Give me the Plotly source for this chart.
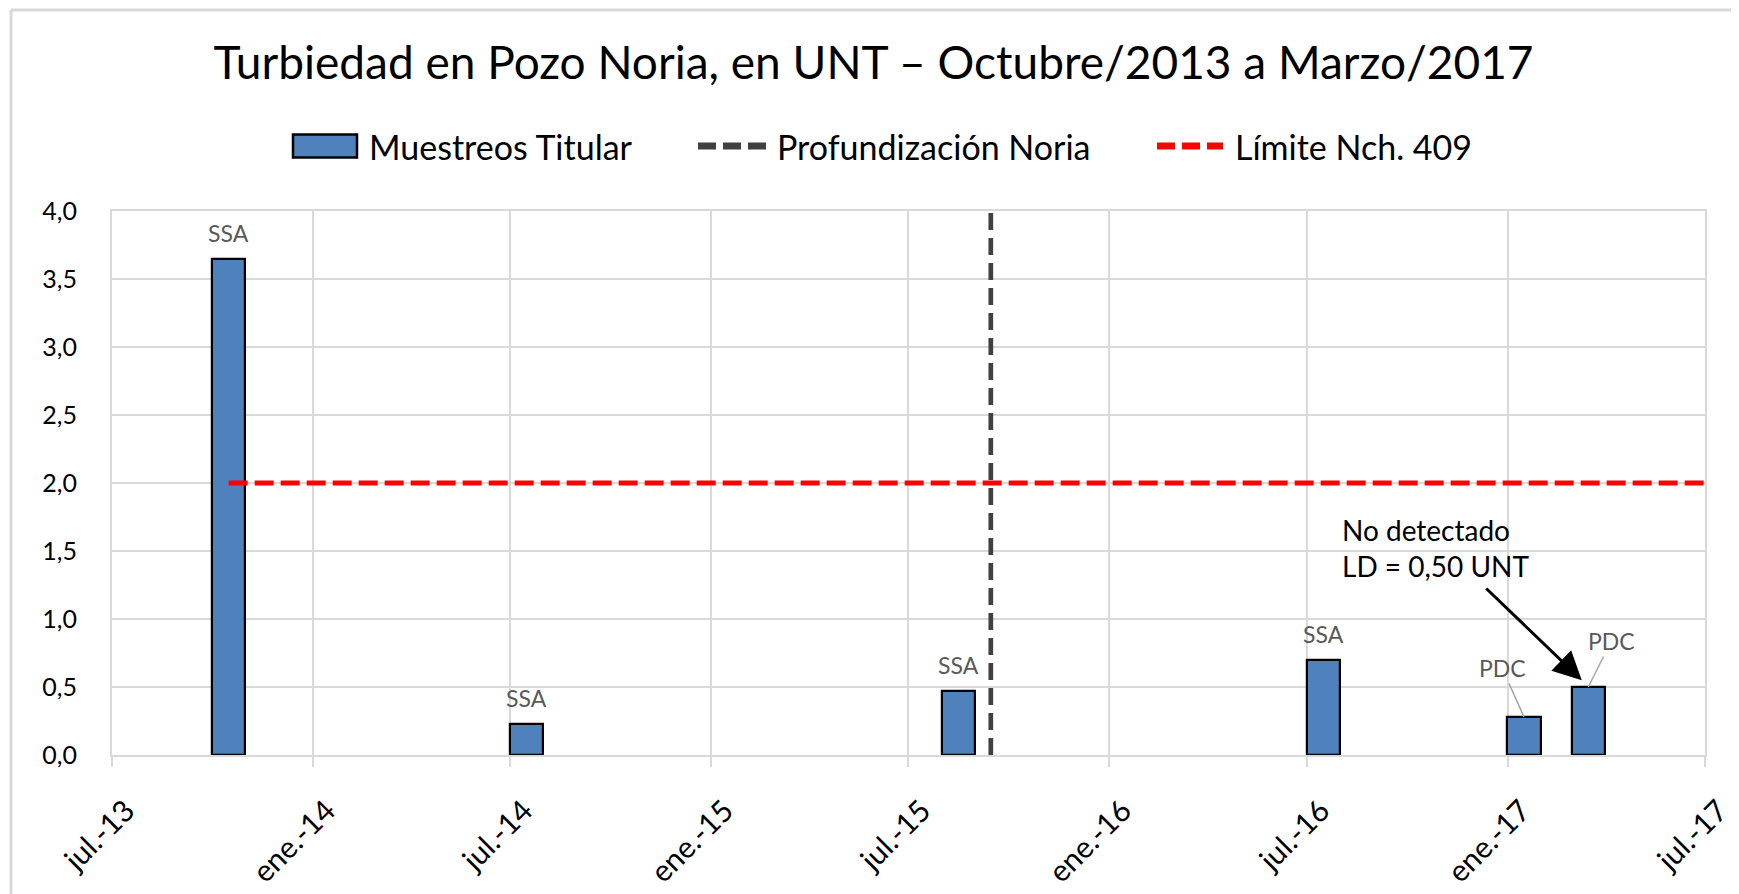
import plotly.graph_objects as go

# ---- data ----
sample_dates = ["2013-10-16", "2014-07-16", "2015-08-16", "2016-07-16", "2017-01-16", "2017-03-16"]
turbidity = [3.65, 0.23, 0.47, 0.70, 0.28, 0.50]
lab_labels = ["SSA", "SSA", "SSA", "SSA", "PDC", "PDC"]

deepening_date = "2015-09-15"
limit_value = 2.0
limit_start = "2013-10-16"
limit_end = "2017-07-01"

tick_dates = ["2013-07-01", "2014-01-01", "2014-07-01", "2015-01-01", "2015-07-01",
              "2016-01-01", "2016-07-01", "2017-01-01", "2017-07-01"]
tick_text = ["jul.-13", "ene.-14", "jul.-14", "ene.-15", "jul.-15",
             "ene.-16", "jul.-16", "ene.-17", "jul.-17"]

series_names = ["Muestreos Titular", "Profundización Noria", "Límite Nch. 409"]
note_text = "No detectado<br>LD = 0,50 UNT"
title_text = "Turbiedad en Pozo Noria, en UNT – Octubre/2013 a Marzo/2017"

FONT = "Lato"
GRID = "#D9D9D9"
BAR_COLOR = "#4F81BD"
VLINE_COLOR = "#404040"
LIMIT_COLOR = "#FF0000"
DAY_MS = 86400000

# page layout (the html body adds an 8px offset)
W, H = 1731, 886
L, R, T, B = 104, 34, 203, 139
PX0, PX1 = 8 + L, 8 + W - R
PY0, PY1 = 8 + T, 8 + H - B


def px(x):
    return (x - PX0) / (PX1 - PX0)


def py(y):
    return (PY1 - y) / (PY1 - PY0)


fig = go.Figure()

fig.add_trace(go.Bar(
    x=sample_dates, y=turbidity, name=series_names[0],
    width=[30.3 * DAY_MS] * len(sample_dates),
    marker=dict(color=BAR_COLOR, line=dict(color="black", width=2.2)),
    showlegend=False,
))
fig.add_trace(go.Scatter(
    x=[deepening_date, deepening_date], y=[0, 4], mode="lines",
    name=series_names[1],
    line=dict(color=VLINE_COLOR, width=4.7, dash="17px,8px"),
    showlegend=False,
))
fig.add_trace(go.Scatter(
    x=[limit_start, limit_end], y=[limit_value, limit_value], mode="lines",
    name=series_names[2],
    line=dict(color=LIMIT_COLOR, width=5, dash="19px,7px"),
    showlegend=False,
))

annotations = []
pdc_offsets = {4: (-22, -49), 5: (23, -46)}
for i, (d, v, lab) in enumerate(zip(sample_dates, turbidity, lab_labels)):
    if i in pdc_offsets:
        ax, ay = pdc_offsets[i]
        annotations.append(dict(
            x=d, y=v, xref="x", yref="y", text=lab, showarrow=True,
            ax=ax, ay=ay, arrowhead=0, arrowwidth=1.5, arrowcolor="#A6A6A6",
            standoff=0, font=dict(family=FONT, size=23, color="#595959"),
        ))
    else:
        annotations.append(dict(
            x=d, y=v, xref="x", yref="y", text=lab, showarrow=False,
            yanchor="middle", yshift=26,
            font=dict(family=FONT, size=23, color="#595959"),
        ))

annotations.append(dict(
    x="2016-07-31", y=1.52, xref="x", yref="y", text=note_text, showarrow=False,
    xanchor="left", yanchor="middle", align="left",
    font=dict(family=FONT, size=28, color="black"),
))
annotations.append(dict(
    x="2017-03-10", y=0.55, xref="x", yref="y", ax="2016-12-11", ay=1.235,
    axref="x", ayref="y", text="", showarrow=True, arrowhead=2, arrowsize=1.9,
    arrowwidth=3, arrowcolor="black", standoff=0,
))

# ---- legend (drawn to match the reference's wide symbols) ----
LEG_Y = 146
legend_items = [
    dict(kind="rect", x0=293, x1=357, text_x=367),
    dict(kind="line", x0=698, x1=766, text_x=775, color=VLINE_COLOR),
    dict(kind="line", x0=1157, x1=1223, text_x=1233, color=LIMIT_COLOR),
]
shapes = []
for name, item in zip(series_names, legend_items):
    if item["kind"] == "rect":
        shapes.append(dict(type="rect", xref="paper", yref="paper",
                           x0=px(item["x0"]), x1=px(item["x1"]),
                           y0=py(LEG_Y + 11.5), y1=py(LEG_Y - 11.5),
                           fillcolor=BAR_COLOR, line=dict(color="black", width=2.5)))
    else:
        shapes.append(dict(type="line", xref="paper", yref="paper",
                           x0=px(item["x0"]), x1=px(item["x1"]),
                           y0=py(LEG_Y), y1=py(LEG_Y),
                           line=dict(color=item["color"], width=7, dash="18px,7px")))
    annotations.append(dict(
        x=px(item["text_x"]), y=py(LEG_Y), xref="paper", yref="paper", text=name,
        showarrow=False, xanchor="left", yanchor="middle",
        font=dict(family=FONT, size=34, color="black"),
    ))

# outer chart border (top and left edges visible in the reference)
BX, BY = 11, 10
shapes.append(dict(type="line", xref="paper", yref="paper", layer="below",
                   x0=px(BX), x1=1.05, y0=py(BY), y1=py(BY),
                   line=dict(color=GRID, width=3)))
shapes.append(dict(type="line", xref="paper", yref="paper", layer="below",
                   x0=px(BX), x1=px(BX), y0=py(BY), y1=-0.4,
                   line=dict(color=GRID, width=3)))

fig.update_layout(
    width=W, height=H,
    margin=dict(l=L, r=R, t=T, b=B, autoexpand=False),
    paper_bgcolor="white", plot_bgcolor="white",
    separators=",.",
    title=dict(
        text=title_text,
        x=0.5, xanchor="center", y=1 - (63 - 8) / H, yanchor="middle",
        font=dict(family=FONT, size=46, color="black"),
    ),
    showlegend=False,
    xaxis=dict(
        type="date", range=[tick_dates[0], tick_dates[-1]],
        tickmode="array", tickvals=tick_dates, ticktext=tick_text, tickangle=-45,
        showgrid=True, gridcolor=GRID, gridwidth=2,
        ticks="outside", ticklen=10, tickcolor=GRID, tickwidth=2,
        showline=True, linecolor=GRID, linewidth=2, mirror=True,
        tickfont=dict(family=FONT, size=30, color="black"),
        ticklabelstandoff=14, ticklabelshift=14,
        zeroline=False, automargin=False,
    ),
    yaxis=dict(
        range=[0, 4], dtick=0.5, tick0=0, tickformat=".1f",
        showgrid=True, gridcolor=GRID, gridwidth=2,
        showline=True, linecolor=GRID, linewidth=2, mirror=True,
        ticks="", ticklabelstandoff=28,
        tickfont=dict(family=FONT, size=25, color="black"),
        zeroline=False, automargin=False,
    ),
    annotations=annotations,
    shapes=shapes,
    bargap=0,
)

fig.write_html("out.html")
